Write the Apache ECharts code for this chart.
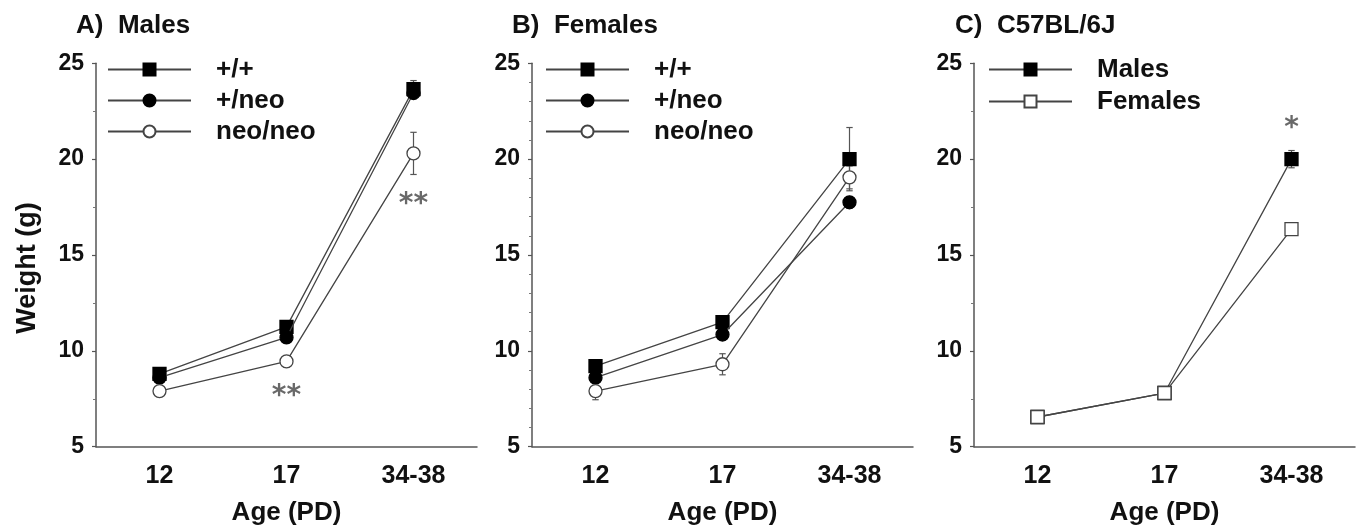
<!DOCTYPE html>
<html>
<head>
<meta charset="utf-8">
<script src="https://cdn.jsdelivr.net/npm/echarts@6/dist/echarts.min.js"></script>
<style>
  html, body { margin: 0; padding: 0; background: #fff; }
  #chart { width: 1361px; height: 529px; }
</style>
</head>
<body>
<div id="chart"></div>
<script>
// Age groups (postnatal day)
const ageLabels = ['12', '17', '34-38'];

// A) Males — mean body weight (g) and SEM
const malesWT = [8.8, 11.25, 23.65];
const malesWTErr = [0.2, 0.3, 0.45];
const malesHet = [8.6, 10.7, 23.45];
const malesHetErr = [0.2, 0.2, 0.3];
const malesNeo = [7.9, 9.45, 20.3];
const malesNeoErr = [0.2, 0.3, 1.1];
const malesNeoSig = ['', '**', '**'];

// B) Females
const femalesWT = [9.2, 11.5, 20.0];
const femalesWTErr = [0.2, 0.3, 1.65];
const femalesHet = [8.6, 10.85, 17.75];
const femalesHetErr = [0.25, 0.2, 0.3];
const femalesNeo = [7.9, 9.3, 19.05];
const femalesNeoErr = [0.45, 0.55, 0.6];

// C) C57BL/6J
const b6Males = [6.55, 7.8, 20.0];
const b6MalesErr = [0.15, 0.15, 0.45];
const b6MalesSig = ['', '', '*'];
const b6Females = [6.55, 7.8, 16.35];
const b6FemalesErr = [0.15, 0.15, 0.2];

const panelTitles = ['A)  Males', 'B)  Females', 'C)  C57BL/6J'];
const yMin = 5, yMax = 25, yStep = 5;

const FONT = '"Liberation Sans", Arial, Helvetica, sans-serif';
const AXIS_COLOR = '#555';
const LINE_COLOR = '#444';

const panels = [
  {
    left: 96, minorSplit: 2, yName: 'Weight (g)', legendLeft: 107, legendGap: 0, titleLeft: 71,
    groups: [
      { name: '+/+', values: malesWT, errors: malesWTErr, symbol: 'rect', filled: true },
      { name: '+/neo', values: malesHet, errors: malesHetErr, symbol: 'circle', filled: true },
      { name: 'neo/neo', values: malesNeo, errors: malesNeoErr, symbol: 'circle', filled: false,
        sig: malesNeoSig, sigSide: 'below' }
    ]
  },
  {
    left: 532, minorSplit: 5, yName: '', legendLeft: 545, legendGap: 0, titleLeft: 507,
    groups: [
      { name: '+/+', values: femalesWT, errors: femalesWTErr, symbol: 'rect', filled: true },
      { name: '+/neo', values: femalesHet, errors: femalesHetErr, symbol: 'circle', filled: true },
      { name: 'neo/neo', values: femalesNeo, errors: femalesNeoErr, symbol: 'circle', filled: false }
    ]
  },
  {
    left: 974, minorSplit: 2, yName: '', legendLeft: 988, legendGap: 1, titleLeft: 950,
    groups: [
      { name: 'Males', values: b6Males, errors: b6MalesErr, symbol: 'rect', filled: true,
        sig: b6MalesSig, sigSide: 'above' },
      { name: 'Females', values: b6Females, errors: b6FemalesErr, symbol: 'rect', filled: false }
    ]
  }
];

const GRID_TOP = 63.3, GRID_H = 383.4, GRID_W = 381;

function errorBarRender(params, api) {
  const c = api.value(0), m = api.value(1), e = api.value(2);
  const hi = api.coord([c, m + e]);
  const lo = api.coord([c, m - e]);
  const w = 3.2;
  const style = { stroke: '#555', lineWidth: 1.2, fill: null };
  return {
    type: 'group',
    children: [
      { type: 'line', shape: { x1: hi[0], y1: hi[1], x2: lo[0], y2: lo[1] }, style },
      { type: 'line', shape: { x1: hi[0] - w, y1: hi[1], x2: hi[0] + w, y2: hi[1] }, style },
      { type: 'line', shape: { x1: lo[0] - w, y1: lo[1], x2: lo[0] + w, y2: lo[1] }, style }
    ]
  };
}

const grid = [], xAxis = [], yAxis = [], series = [], legend = [], title = [];

panels.forEach((p, idx) => {
  grid.push({ left: p.left, top: GRID_TOP, width: GRID_W, height: GRID_H,
    containLabel: false, outerBoundsMode: 'none' });

  title.push({
    text: panelTitles[idx],
    left: p.titleLeft, top: 8,
    textStyle: { fontFamily: FONT, fontSize: 26, fontWeight: 'bold', color: '#111' }
  });

  xAxis.push({
    type: 'category', gridIndex: idx, data: ageLabels, boundaryGap: true,
    name: 'Age (PD)', nameLocation: 'middle', nameGap: 53,
    nameTextStyle: { fontFamily: FONT, fontSize: 26, fontWeight: 'bold', color: '#111' },
    axisLine: { lineStyle: { color: AXIS_COLOR, width: 1.5 } },
    axisTick: { alignWithLabel: true, length: 5, lineStyle: { color: AXIS_COLOR, width: 1.2 } },
    axisLabel: { margin: 17, fontFamily: FONT, fontSize: 25, fontWeight: 'bold', color: '#111' },
    splitLine: { show: false }
  });

  yAxis.push({
    type: 'value', gridIndex: idx, min: yMin, max: yMax, interval: yStep,
    name: p.yName, nameLocation: 'middle', nameGap: 55, nameRotate: 90,
    nameTextStyle: { fontFamily: FONT, fontSize: 27, fontWeight: 'bold', color: '#111',
      padding: [0, 26, 0, 0] },
    axisLine: { show: true, lineStyle: { color: AXIS_COLOR, width: 1.5 } },
    axisTick: { show: true, length: 4, lineStyle: { color: AXIS_COLOR, width: 1.2 } },
    minorTick: { show: true, splitNumber: p.minorSplit, length: 3,
      lineStyle: { color: '#777', width: 1 } },
    axisLabel: { margin: 12, fontFamily: FONT, fontSize: 23, fontWeight: 'bold', color: '#111' },
    splitLine: { show: false }
  });

  legend.push({
    orient: 'vertical', left: p.legendLeft, top: 54, padding: 0,
    itemWidth: 83, itemHeight: 15, itemGap: p.legendGap,
    selectedMode: false,
    data: p.groups.map(g => g.name),
    textStyle: { fontFamily: FONT, fontSize: 26, fontWeight: 'bold', color: '#111',
      lineHeight: 22, padding: [9, 0, 0, 20] }
  });

  p.groups.forEach((g, gi) => {
    // error bars, drawn beneath the markers
    series.push({
      type: 'custom', name: g.name + ' SEM', xAxisIndex: idx, yAxisIndex: idx,
      z: 1, silent: true,
      encode: { x: 0, y: 1 },
      data: g.values.map((v, i) => [i, v, g.errors[i]]),
      renderItem: errorBarRender
    });

    series.push({
      type: 'line', name: g.name, xAxisIndex: idx, yAxisIndex: idx,
      z: 3 + gi,
      data: g.values,
      symbol: g.symbol, symbolSize: 13, showAllSymbol: true,
      lineStyle: { color: LINE_COLOR, width: 1.3 },
      itemStyle: {
        color: g.filled ? '#000' : '#fff',
        borderColor: g.filled ? '#000' : '#444',
        borderWidth: 1.3
      },
      emphasis: { disabled: true }
    });

    if (g.sig) {
      const below = g.sigSide === 'below';
      series.push({
        type: 'scatter', name: g.name + ' significance', xAxisIndex: idx, yAxisIndex: idx,
        z: 6, silent: true, symbolSize: 0,
        data: g.values.map((v, i) => g.sig[i] ? {
          value: [i, below ? v - g.errors[i] : v + g.errors[i]],
          sig: g.sig[i]
        } : null).filter(d => d),
        label: {
          show: true, position: 'inside', offset: [0, below ? 30 : -22],
          formatter: (d) => d.data.sig,
          fontFamily: '"DejaVu Sans", sans-serif', fontSize: 28, fontWeight: 'bold', color: '#444'
        }
      });
    }
  });
});

const chart = echarts.init(document.getElementById('chart'), null, { renderer: 'canvas' });
chart.setOption({
  backgroundColor: '#fff',
  animation: false,
  title, grid, xAxis, yAxis, legend, series
});
</script>
</body>
</html>
